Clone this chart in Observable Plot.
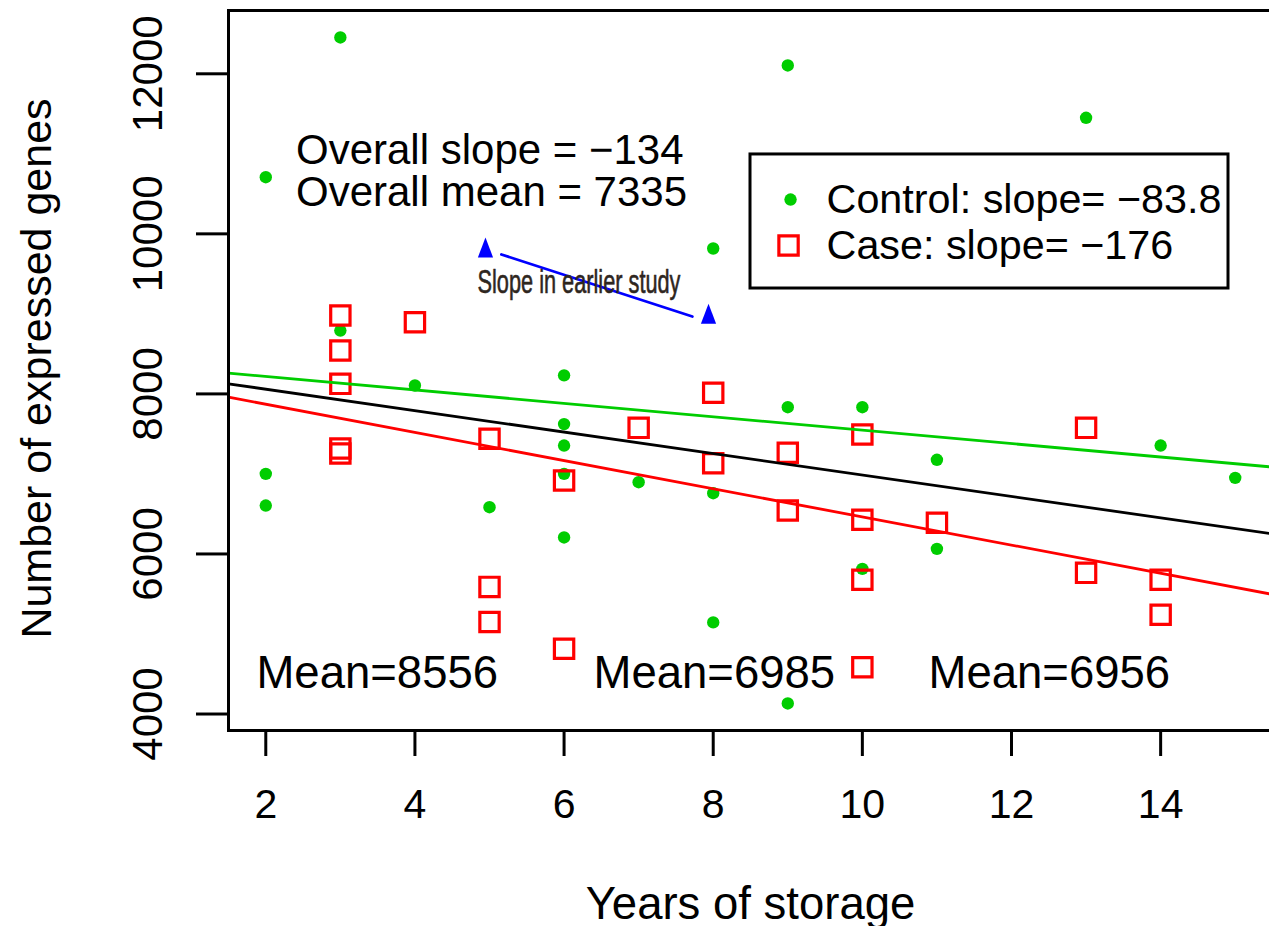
<!DOCTYPE html>
<html><head><meta charset="utf-8">
<script src="https://cdn.jsdelivr.net/npm/d3@7"></script>
<script src="https://cdn.jsdelivr.net/npm/@observablehq/plot@0.6"></script>
<style>html,body{margin:0;padding:0;background:#fff;overflow:hidden;}</style>
</head><body><div id="chart"></div>
<script>
// ---- data ----
const controlYears = [2, 2, 2, 3, 3, 4, 5, 6, 6, 6, 6, 6, 7, 8, 8, 8, 9, 9, 9, 10, 10, 11, 11, 13, 14, 15];
const controlGenes = [10708, 7001, 6605, 12454, 8792, 8105, 6584, 8232, 7623, 7355, 7001, 6206, 6897, 9817, 6759, 5145, 12104, 7834, 4132, 7834, 5814, 7177, 6064, 11450, 7355, 6951];
const caseYears = [3, 3, 3, 3, 3, 4, 5, 5, 5, 6, 6, 7, 8, 8, 9, 9, 10, 10, 10, 10, 11, 13, 13, 14, 14];
const caseGenes = [8980, 8542, 8126, 7318, 7256, 8896, 7439, 5588, 5150, 6918, 4816, 7576, 8014, 7134, 7264, 6543, 7493, 6427, 5677, 4585, 6389, 7576, 5764, 5677, 5240];
const xTicks = [2, 4, 6, 8, 10, 12, 14];
const yTicks = [4000, 6000, 8000, 10000, 12000];
const fitGroups = ["Overall", "Control", "Case"];
const fitIntercepts = [8327, 8385, 8223];
const fitSlopes = [-134, -83.8, -176];
const fitColors = ["#000000", "#00cd00", "#ff0000"];
const overallLabels = ["Overall slope = \u2212134", "Overall mean = 7335"];
const meanLabels = ["Mean=8556", "Mean=6985", "Mean=6956"];
const legendLabels = ["Control: slope= \u221283.8", "Case: slope= \u2212176"];
const earlierLabel = "Slope in earlier study";
const earlierX = [4.946, 7.937];
const earlierY = [9787, 8959];
const earlierLineX = [5.16, 7.72];
const earlierLineY = [9742, 8967];

// ---- derived tables ----
const xDomain = [1.5, 15.5];
const yDomain = [3794, 12791];
const control = controlYears.map((x, i) => ({x, y: controlGenes[i]}));
const cases = caseYears.map((x, i) => ({x, y: caseGenes[i]}));
const fits = fitGroups.flatMap((g, i) => xDomain.map(x => ({group: g, x, y: fitIntercepts[i] + fitSlopes[i] * x, color: fitColors[i]})));
const earlierTri = earlierX.map((x, i) => ({x, y: earlierY[i]}));
const earlierLine = earlierLineX.map((x, i) => ({x, y: earlierLineY[i]}));

const tallTriangle = {
  draw(ctx, size) {
    const s = Math.sqrt(size);
    ctx.moveTo(0, -0.67 * s);
    ctx.lineTo(0.38 * s, 0.33 * s);
    ctx.lineTo(-0.38 * s, 0.33 * s);
    ctx.closePath();
  }
};

const GREEN = "#00cd00", RED = "#ff0000";
const FONT = "'Liberation Sans', Arial, Helvetica, sans-serif";

const chart = Plot.plot({
  width: 1275, height: 926,
  marginLeft: 228, marginRight: 3, marginTop: 10, marginBottom: 196,
  x: {domain: xDomain},
  y: {domain: yDomain},
  color: {type: "identity"},
  style: {fontFamily: FONT, fontSize: "41px", background: "white", color: "black", maxWidth: "none", overflow: "visible"},
  marks: [
    Plot.dot(control, {x: "x", y: "y", r: 6.2, fill: GREEN, stroke: null}),
    Plot.dot(cases, {x: "x", y: "y", r: 10.9, symbol: "square", stroke: RED, strokeWidth: 3.2, fill: "none"}),
    Plot.line(fits, {x: "x", y: "y", z: "group", stroke: "color", strokeWidth: 2.8}),
    // earlier-study annotation
    Plot.line(earlierLine, {x: "x", y: "y", stroke: "#0000ff", strokeWidth: 2.8}),
    Plot.dot(earlierTri, {x: "x", y: "y", r: 11.3, symbol: tallTriangle, fill: "#0000ff", stroke: null}),
    Plot.text([earlierLabel], {x: 4.839, y: 9267, text: d => d, textAnchor: "start", lineAnchor: "bottom", fontSize: 34, fill: "#2e261e", stroke: "#2e261e", strokeWidth: 0.6}),
    // overall text
    Plot.text(overallLabels, {x: 2.405, y: (d, i) => [10879, 10354][i], text: d => d, textAnchor: "start", lineAnchor: "bottom", fontSize: 42}),
    // mean labels
    Plot.text(meanLabels, {x: (d, i) => [1.875, 6.395, 10.887][i], y: 4331, text: d => d, textAnchor: "start", lineAnchor: "bottom", fontSize: 45.5}),
    // legend
    Plot.rect([0], {x1: 8.5, x2: 14.91, y1: 9317, y2: 10992, fill: "white", stroke: "black", strokeWidth: 3}),
    Plot.dot([0], {x: 9.037, y: 10429, r: 6.2, fill: GREEN, stroke: null}),
    Plot.dot([0], {x: 9.01, y: 9854, r: 10.9, symbol: "square", stroke: RED, strokeWidth: 3.2, fill: "none"}),
    Plot.text(legendLabels, {x: 9.52, y: (d, i) => [10429, 9854][i], text: d => d, textAnchor: "start", lineAnchor: "middle", fontSize: 41.3}),
    // axes
    Plot.axisX({ticks: xTicks, tickSize: 26, tickPadding: 32, fontSize: 41, strokeWidth: 3, label: null}),
    Plot.axisY({ticks: yTicks, tickSize: 32, tickFormat: () => "", strokeWidth: 3, label: null}),
    Plot.text(yTicks, {y: d => d, text: d => String(d), frameAnchor: "left", dx: -67, rotate: -90, textAnchor: "middle", lineAnchor: "bottom", fontSize: 42}),
    Plot.text(["Number of expressed genes"], {text: d => d, frameAnchor: "left", dx: -178, dy: -2, rotate: -90, textAnchor: "middle", lineAnchor: "bottom", fontSize: 43}),
    Plot.text(["Years of storage"], {text: d => d, frameAnchor: "bottom", dy: 188, textAnchor: "middle", lineAnchor: "bottom", fontSize: 45.5}),
    Plot.frame({stroke: "black", strokeWidth: 3})
  ]
});
document.getElementById("chart").appendChild(chart);
chart.querySelectorAll("text").forEach(t => {
  if (t.textContent === earlierLabel) {
    t.setAttribute("textLength", "203");
    t.setAttribute("lengthAdjust", "spacingAndGlyphs");
  }
});
</script>
</body></html>
